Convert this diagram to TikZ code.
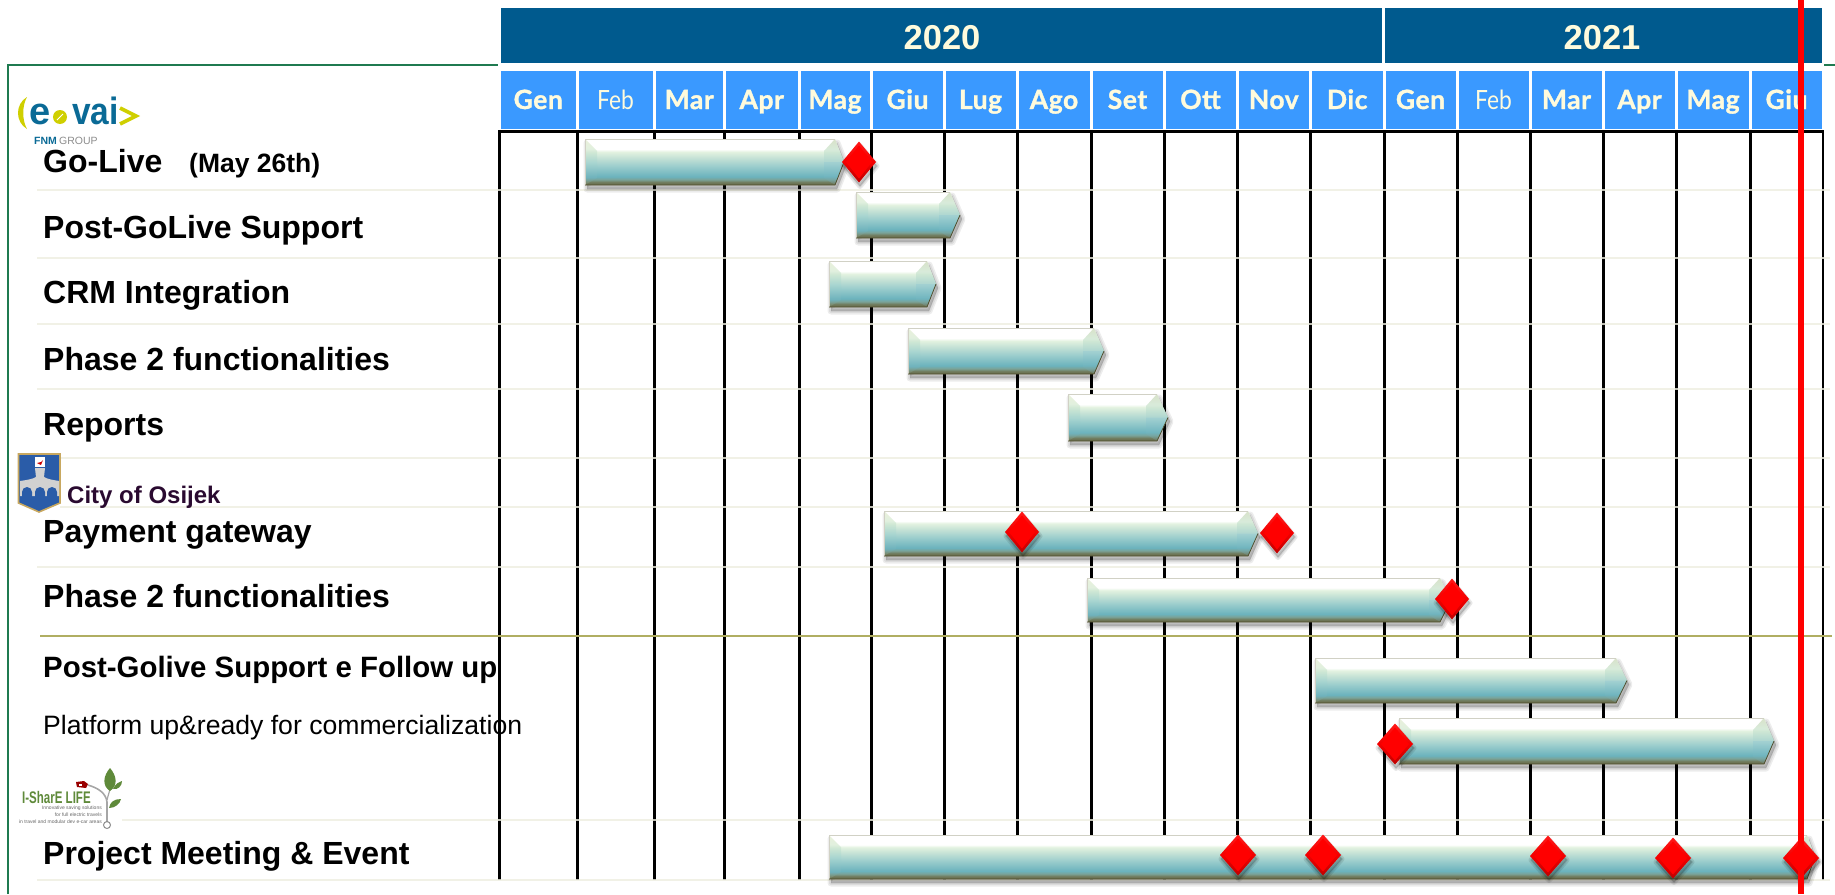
\documentclass[tikz,border=0pt]{standalone}
\usepackage{fontspec}
\setmainfont{Liberation Sans}
\newfontfamily\monthfont[BoldFeatures={FakeBold=1.2,LetterSpace=2}]{Lato}
\definecolor{yearblue}{HTML}{005A8E}
\definecolor{monthblue}{HTML}{3A99FF}
\definecolor{cream}{HTML}{FFFBDC}
\definecolor{rowline}{HTML}{EEEEE0}
\definecolor{olive}{HTML}{B0AE62}
\definecolor{frame}{HTML}{1F7A50}
\definecolor{evaiblue}{HTML}{0A6A96}
\definecolor{evaiyel}{HTML}{CFCF00}
\definecolor{leaf}{HTML}{5F8A3A}
\definecolor{shieldblue}{HTML}{2A5CA8}
\definecolor{shieldtan}{HTML}{C8A860}
\definecolor{cityink}{HTML}{2A0A30}
\pgfdeclareverticalshading{barmain}{100bp}{rgb(0bp)=(.40,.41,.29);rgb(25bp)=(.40,.41,.29);rgb(28bp)=(.44,.48,.36);rgb(31bp)=(.48,.64,.60);rgb(34bp)=(.42,.70,.74);rgb(45bp)=(.60,.80,.80);rgb(55bp)=(.78,.89,.84);rgb(61bp)=(.89,.95,.88);rgb(64bp)=(1,1,1);rgb(75bp)=(1,1,1);rgb(100bp)=(1,1,1)}
\pgfdeclareverticalshading{barleft}{100bp}{rgb(0bp)=(.42,.43,.31);rgb(25bp)=(.42,.43,.31);rgb(28bp)=(.50,.58,.48);rgb(33bp)=(.44,.70,.74);rgb(50bp)=(.66,.84,.82);rgb(65bp)=(.84,.92,.82);rgb(75bp)=(.88,.92,.80);rgb(100bp)=(.88,.92,.80)}
\pgfdeclareverticalshading{bartipup}{100bp}{rgb(0bp)=(.68,.84,.82);rgb(25bp)=(.68,.84,.82);rgb(50bp)=(.80,.90,.82);rgb(75bp)=(.80,.85,.72);rgb(100bp)=(.80,.85,.72)}
\pgfdeclareverticalshading{bartipdn}{100bp}{rgb(0bp)=(.44,.46,.34);rgb(25bp)=(.44,.46,.34);rgb(32bp)=(.46,.62,.60);rgb(45bp)=(.46,.72,.76);rgb(75bp)=(.60,.80,.82);rgb(100bp)=(.60,.80,.82)}
\pgfdeclareverticalshading{diaedge}{100bp}{rgb(0bp)=(.75,0,0);rgb(25bp)=(.75,0,0);rgb(50bp)=(.95,0,0);rgb(75bp)=(1,.1,.1);rgb(100bp)=(1,.1,.1)}
\newcommand\gbar[5]{%
  \pgfmathsetmacro\ymid{(#4+#5)/2}%
  \foreach \wd in {7,4,1}{%
    \path[shift={(2,4)},fill=black,draw=black,fill opacity=.07,draw opacity=.07,line width=\wd pt,line join=round]
      (#1,#4) -- (#2,#4) -- (#3,\ymid) -- (#2,#5) -- (#1,#5) -- cycle;}
  \path[shading=barmain] (#1,#4) -- (#2,#4) -- (#3,\ymid) -- (#2,#5) -- (#1,#5) -- cycle;
  \path[shading=barleft,opacity=.7] (#1,#4) -- ({#1+12},{#4+12}) -- ({#1+12},{#5-7}) -- (#1,#5) -- cycle;
  \path[shading=bartipup,opacity=.75] (#2,#4) -- (#3,\ymid) -- ({#2-11},\ymid) -- ({#2-11},{#4+12}) -- cycle;
  \path[shading=bartipdn,opacity=.55] (#3,\ymid) -- (#2,#5) -- ({#2-11},{#5-7}) -- ({#2-11},\ymid) -- cycle;
  \draw[color=black!12!rowline,line width=.8pt] (#1,#5) -- (#1,#4) -- (#2,#4);
  \draw[color=black!55!olive,line width=.8pt] (#3,\ymid) -- (#2,#5) -- (#1,#5);
}
\newcommand\gdia[4]{%
  \foreach \wd in {5,2}{%
    \path[shift={(1,4)},fill=black,draw=black,fill opacity=.09,draw opacity=.09,line width=\wd pt,line join=round]
      ({#1-#3},#2) -- (#1,{#2-#4}) -- ({#1+#3},#2) -- (#1,{#2+#4}) -- cycle;}
  \path[shading=diaedge] ({#1-#3},#2) -- (#1,{#2-#4}) -- ({#1+#3},#2) -- (#1,{#2+#4}) -- cycle;
  \fill[color=red] ({#1-#3+4},#2) -- (#1,{#2-#4+4}) -- ({#1+#3-4},#2) -- (#1,{#2+#4-4}) -- cycle;
}
\tikzset{
  lab/.style={anchor=base west,inner sep=0pt,text=black},
  monthlab/.style={anchor=base,inner sep=0pt,text=cream},
  gridline/.style={line width=3pt,color=black},
  rowsep/.style={line width=1.5pt,color=rowline,opacity=.8}
}
\begin{document}
\begin{tikzpicture}[x=1pt,y=-1pt]
\useasboundingbox (0,0) rectangle (1835,894);
% frame
\draw[color=frame,line width=1.8pt] (8,894) -- (8,65) -- (498,65);
\draw[color=frame,line width=1.8pt] (1824,65) -- (1835,65);
% year bands
\fill[color=yearblue] (501,8) rectangle (1382,63);
\fill[color=yearblue] (1385,8) rectangle (1822,63);
\node[monthlab,text=cream,font=\fontsize{34.5}{40}\selectfont\bfseries] (y2020) at (942,49) {2020};
\node[monthlab,text=cream,font=\fontsize{34.5}{40}\selectfont\bfseries] (y2021) at (1602,49) {2021};
% months
\foreach \i/\a/\b/\t/\f in {1/499.5/577/Gen/\bfseries,2/577/654/\scalebox{.86}[1]{Feb}/,3/654/724.5/Mar/\bfseries,4/724.5/799/Apr/\bfseries,5/799/871/Mag/\bfseries,6/871/944/Giu/\bfseries,7/944/1017/Lug/\bfseries,8/1017/1091/Ago/\bfseries,9/1091/1164/Set/\bfseries,10/1164/1237/Ott/\bfseries,11/1237/1310.5/Nov/\bfseries,12/1310.5/1384/Dic/\bfseries,13/1384/1457/Gen/\bfseries,14/1457/1530/\scalebox{.86}[1]{Feb}/,15/1530/1603/Mar/\bfseries,16/1603/1676/Apr/\bfseries,17/1676/1750/Mag/\bfseries,18/1750/1823/Giu/\bfseries}{
  \fill[color=monthblue] ({\a+1.5},71) rectangle ({\b-1.5},129);
  \node[monthlab,font=\monthfont\fontsize{26.5}{30}\selectfont\f] (m\i) at ({(\a+\b)/2},109) {\t};
}
% grid
\foreach \x in {499.5,577,654,724.5,799,871,944,1017,1091,1164,1237,1310.5,1384,1457,1530,1603,1676,1750}{
  \draw[gridline] (\x,130) -- (\x,880);
}
\draw[line width=2pt,color=black] (1823,130) -- (1823,880);
\draw[gridline] (498,131) -- (1824,131);
% row lines
\foreach \y/\s in {190/37,258/37,324/37,389/37,458/60,507/60,567/37,820/122,880/37}{
  \draw[rowsep] (\s,\y) -- (1830,\y);
}
\draw[line width=2.2pt,color=olive] (40,636) -- (1832,636);
% labels
\tikzset{bl/.style={lab,font=\fontsize{32}{36}\selectfont\bfseries}}
\node[bl] (t1) at (43,172) {Go-Live};
\node[lab,font=\fontsize{26.5}{30}\selectfont\bfseries] (t1b) at (189,172) {(May 26th)};
\node[bl] (t2) at (43,238) {Post-GoLive Support};
\node[bl] (t3) at (43,303) {CRM Integration};
\node[bl] (t4) at (43,370) {Phase 2 functionalities};
\node[bl] (t5) at (43,435) {Reports};
\node[lab,text=cityink,font=\fontsize{24}{30}\selectfont\bfseries] (city) at (67,503) {City of Osijek};
\node[bl] (t6) at (43,542) {Payment gateway};
\node[bl] (t7) at (43,607) {Phase 2 functionalities};
\node[lab,font=\fontsize{29.4}{34}\selectfont\bfseries] (t8) at (43,677) {Post-Golive Support e Follow up};
\node[lab,font=\fontsize{26.6}{30}\selectfont] (t9) at (43,734) {Platform up\&ready for commercialization};
\node[bl] (t10) at (43,864) {Project Meeting \& Event};
% e-vai logo
\fill[color=evaiyel] (27,97) .. controls (15,104) and (15,122) .. (27,129) .. controls (22,120) and (22,106) .. (27,97) -- cycle;
\node[lab,text=evaiblue,font=\fontsize{38}{42}\selectfont\bfseries] (evai1) at (29,124.5) {e};
\node[lab,text=evaiblue,font=\fontsize{38}{42}\selectfont\bfseries] (evai2) at (72,124.5) {\scalebox{.88}[1]{vai}};
\fill[color=evaiyel] (60,117) circle (7);
\draw[color=white,line width=.8pt] (57,120) -- (63,114);
\draw[color=evaiyel,line width=3.6pt] (120,108) -- (136,116) -- (120,124);
\node[lab,text=evaiblue,font=\fontsize{10.5}{12}\selectfont\bfseries] (fnm) at (34,144) {FNM};
\node[lab,text=black!45,font=\fontsize{10.5}{12}\selectfont] (grp) at (59,144) {GROUP};
% shield
\draw[color=shieldtan,fill=shieldblue,line width=1.6pt] (18.5,454) -- (60,454) -- (60,503) -- (39,512) -- (18.5,503) -- cycle;
\fill[color=black!18] (20,481) .. controls (27,480) and (33,479) .. (36,477) -- (35,468) -- (45,468) -- (44,477) .. controls (47,479) and (53,480) .. (59,481) -- (59,496) -- (20,496) -- cycle;
\foreach \cx in {27,40,52}{
  \fill[color=shieldblue] ({\cx-5},497) -- ({\cx-5},492) arc (180:360:5) -- ({\cx+5},497) -- cycle;
}
\fill[color=white] (35,457) rectangle (45,467);
\fill[color=red!80!black] (37,463) -- (41,465) -- (43,460) -- (41,462) -- cycle;
% I-SharE LIFE logo
\node[lab,text=leaf,font=\fontsize{16}{18}\selectfont\bfseries] (ishare) at (22,803) {\scalebox{.72}[1.05]{I-SharE LIFE}};
\node[anchor=base east,inner sep=0pt,text=black!60,font=\fontsize{5}{7}\selectfont] (is1) at (102,809) {Innovative saving solutions};
\node[anchor=base east,inner sep=0pt,text=black!60,font=\fontsize{5}{7}\selectfont] (is2) at (102,816) {for full electric travels};
\node[anchor=base east,inner sep=0pt,text=black!60,font=\fontsize{5}{7}\selectfont] (is3) at (102,823) {in travel and modular dev e-car areas};
\draw[color=black!35,line width=1.6pt] (88,785) .. controls (98,788) and (106,793) .. (107,802) -- (107,822);
\draw[color=black!35,line width=1.2pt] (107,800) .. controls (108,796) and (109,793) .. (110,789);
\draw[color=black!45,line width=1pt] (107,825) circle (3.5);
\fill[color=red!60!black] (76,782) -- (84,781) -- (88,784) -- (86,788) -- (77,787) -- cycle;
\fill[color=white] (79,783.5) rectangle (82,785.5);
\fill[color=leaf] (110,768) .. controls (103,776) and (102,786) .. (110,791) .. controls (118,786) and (117,776) .. (110,768) -- cycle;
\fill[color=leaf] (113,789) .. controls (116,783) and (119,782) .. (122,781) .. controls (122,786) and (118,790) .. (113,789) -- cycle;
\fill[color=leaf] (109,808) .. controls (110,802) and (114,799) .. (121,799) .. controls (120,804) and (115,808) .. (109,808) -- cycle;
% bars
\gbar{585}{835}{844}{139}{185}
\gdia{859}{162}{17}{20.5}
\gbar{856}{950}{960}{192}{238}
\gbar{829}{927}{936}{261}{307}
\gbar{908}{1094}{1104}{328}{374}
\gbar{1068}{1157}{1168}{394}{441}
\gbar{884}{1248}{1258}{511}{556}
\gdia{1022}{532}{17}{20.5}
\gdia{1277}{533}{17}{20.5}
\gbar{1087}{1440}{1451}{578}{622}
\gdia{1452}{599}{17}{20.5}
\gbar{1315}{1616}{1627}{658}{703}
\gbar{1399}{1764}{1774}{718}{764}
\gdia{1395}{744}{18}{20.5}
\gbar{829}{1807}{1815}{835}{879}
\gdia{1238}{855}{18}{20.5}
\gdia{1323}{855}{18}{20.5}
\gdia{1548}{856}{18}{20.5}
\gdia{1673}{858}{18}{20.5}
\gdia{1801}{858}{18}{20.5}
% today line
\draw[color=red,line width=6pt] (1801,0) -- (1801,894);
\end{tikzpicture}
\end{document}
